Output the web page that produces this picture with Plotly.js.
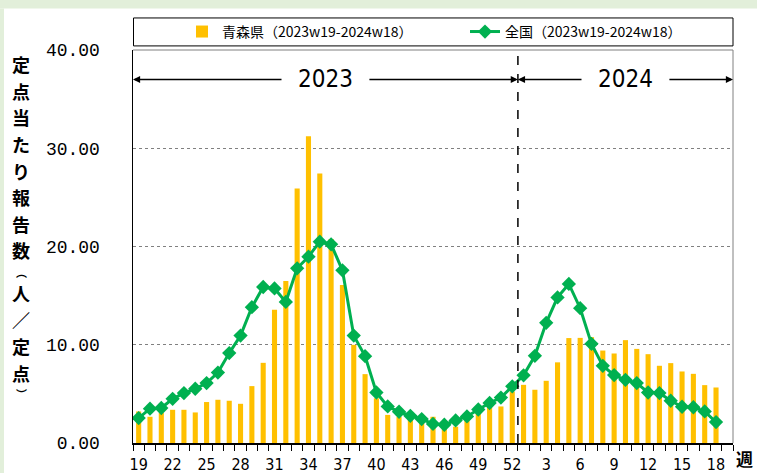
<!DOCTYPE html>
<html><head><meta charset="utf-8">
<script src="https://cdn.plot.ly/plotly-3.0.1.min.js"></script>
<style>html,body{margin:0;padding:0;background:#fff;overflow:hidden;}#chart{width:757px;height:473px;}</style>
</head><body><div id="chart"></div>
<script>
const weeks = ['19','20','21','22','23','24','25','26','27','28','29','30','31','32','33','34','35','36','37','38','39','40','41','42','43','44','45','46','47','48','49','50','51','52',
               '1','2','3','4','5','6','7','8','9','10','11','12','13','14','15','16','17','18'];
const aomori = [3.21,2.67,3.05,3.38,3.38,3.11,4.17,4.40,4.30,3.99,5.79,8.16,13.55,16.49,25.91,31.23,27.44,20.76,16.09,9.99,7.01,4.55,2.86,2.67,2.36,2.06,2.67,1.55,1.66,2.42,3.05,3.69,3.72,5.24,
                5.92,5.42,6.33,8.21,10.68,10.70,10.77,9.41,9.11,10.47,9.58,9.04,7.86,8.13,7.28,7.04,5.89,5.65];
const national = [2.54,3.49,3.56,4.50,5.08,5.52,6.10,7.17,9.15,10.93,13.82,15.88,15.73,14.36,17.78,18.96,20.49,20.22,17.58,10.93,8.84,5.14,3.72,3.18,2.77,2.44,1.94,1.86,2.30,2.70,3.41,4.07,4.62,5.77,
                  6.89,8.87,12.23,14.82,16.19,13.72,10.09,7.86,6.91,6.43,6.10,5.14,5.08,4.30,3.69,3.64,3.21,2.13];
const years = ['2023','2024'];
const seriesNames = ['青森県（2023w19-2024w18）','全国（2023w19-2024w18）'];
const yTicks = [0,10,20,30,40];
const yTitleChars = ['定','点','当','た','り','報','告','数','︵','人','／','定','点','︶'];
const xTitle = '週';

const idx = weeks.map((w,i)=>i);
const tickIdx = idx.filter(i=>i%3===0);
const tickText = tickIdx.map(i=>weeks[i]);
const xMax = weeks.length + 0.5;
const split = weeks.indexOf('1') - 0.5;

// pixel helpers for layout (plot area 133..733 x, 49.6..443.3 y)
const PL=133, PW=600, PB=443.3, PH=393.7;
const px = p => (p-PL)/PW;
const py = p => (PB-p)/PH;

const traces = [
  {type:'bar', x:idx, y:aomori, name:seriesNames[0], width:0.45,
   marker:{color:'#FFC000', line:{width:0}}},
  {type:'scatter', mode:'lines+markers', x:idx, y:national, name:seriesNames[1],
   line:{color:'#00B050', width:3}, marker:{symbol:'diamond', size:11, color:'#00B050'}}
];

const annotations = [];
const segs = [[-0.5, split], [split, xMax]];
const arrowY = 37.0;
segs.forEach((s,k)=>{
  const c = (s[0]+s[1])/2;
  annotations.push({x:c, y:arrowY, xref:'x', yref:'y', text:years[k], showarrow:false,
    font:{family:'Liberation Sans Narrow, DejaVu Sans Condensed, Liberation Sans', size:24, color:'#000'}});
  annotations.push({x:s[0], y:arrowY, ax:c-3.75, ay:arrowY, xref:'x', yref:'y', axref:'x', ayref:'y',
    text:'', showarrow:true, arrowhead:2, arrowsize:1.1, arrowwidth:1.3, arrowcolor:'#000', standoff:0});
  annotations.push({x:s[1], y:arrowY, ax:c+3.75, ay:arrowY, xref:'x', yref:'y', axref:'x', ayref:'y',
    text:'', showarrow:true, arrowhead:2, arrowsize:1.1, arrowwidth:1.3, arrowcolor:'#000', standoff:0});
});
// vertical y-axis title, one glyph per annotation; brackets are half-height
const mainSize = 18, brSize = 11;
const mainBox = mainSize*1.46, brBox = brSize*1.46;
let cy = 64;
yTitleChars.forEach((ch,i)=>{
  const isBr = (ch==='︵' || ch==='︶');
  if(i>0){
    const prevBr = (yTitleChars[i-1]==='︵' || yTitleChars[i-1]==='︶');
    cy += ((prevBr?brBox:mainBox) + (isBr?brBox:mainBox))/2 + 0.3;
  }
  annotations.push({x:px(21), y:py(cy), xref:'paper', yref:'paper', text:'<b>'+ch+'</b>', showarrow:false,
    xanchor:'center', yanchor:'middle', borderpad:0,
    font:{family:'Noto Sans CJK JP', size:isBr?brSize:mainSize, color:'#000'}});
});
annotations.push({x:px(744), y:py(459), xref:'paper', yref:'paper', text:'<b>'+xTitle+'</b>', showarrow:false,
  xanchor:'center', yanchor:'middle', borderpad:0, font:{family:'Noto Sans CJK JP', size:17, color:'#000'}});

const shapes = [
  // light green page bands
  {type:'rect', xref:'paper', yref:'paper', x0:px(-5), x1:px(765), y0:py(8), y1:py(-5), fillcolor:'#e2efda', line:{width:0}, layer:'below'},
  {type:'rect', xref:'paper', yref:'paper', x0:px(-5), x1:px(4), y0:py(480), y1:py(8), fillcolor:'#e2efda', line:{width:0}, layer:'below'},
  // legend box
  {type:'rect', xref:'paper', yref:'paper', x0:px(133.5), x1:px(733), y0:py(45.5), y1:py(17.5), line:{color:'#000', width:1}, fillcolor:'rgba(0,0,0,0)'},
  // top and right frame
  {type:'line', xref:'paper', yref:'paper', x0:0, x1:1, y0:1, y1:1, line:{color:'#808080', width:1}},
  {type:'line', xref:'paper', yref:'paper', x0:1, x1:1, y0:0, y1:1, line:{color:'#808080', width:1}},
  // year divider
  {type:'line', xref:'x', yref:'paper', x0:split, x1:split, y0:0, y1:1, line:{color:'#000', width:1.5, dash:'dash'}}
];

const layout = {
  width:757, height:473,
  margin:{l:133, r:24, t:50, b:30, pad:0, autoexpand:false},
  paper_bgcolor:'#ffffff', plot_bgcolor:'#ffffff',
  showlegend:true,
  legend:{orientation:'h', x:px(182), xanchor:'left', y:py(31.5), yanchor:'middle',
    entrywidth:238, bgcolor:'rgba(0,0,0,0)', borderwidth:0,
    font:{family:'Noto Sans CJK JP', size:14, color:'#000'}},
  xaxis:{range:[-0.5, xMax], tickmode:'array', tickvals:tickIdx, ticktext:tickText, ticks:'',
    showgrid:false, zeroline:false, showline:true, linecolor:'#000', linewidth:1.5,
    ticklabelstandoff:6, automargin:false,
    minor:{tick0:-0.5, dtick:1, ticks:'outside', ticklen:6, tickcolor:'#000', tickwidth:1, showgrid:false},
    tickfont:{family:'Liberation Sans Narrow, DejaVu Sans Condensed, Liberation Sans', size:16, color:'#000'}},
  yaxis:{range:[0,40], tickmode:'array', tickvals:yTicks, tickformat:'.2f', ticks:'',
    showgrid:true, gridcolor:'#808080', griddash:'dot', gridwidth:1, zeroline:false,
    showline:true, linecolor:'#000', linewidth:1.5, ticklabelstandoff:28, automargin:false,
    tickfont:{family:'Liberation Mono', size:18, color:'#000'}},
  annotations:annotations,
  shapes:shapes
};
Plotly.newPlot('chart', traces, layout, {displayModeBar:false, staticPlot:true});
</script>
</body></html>
